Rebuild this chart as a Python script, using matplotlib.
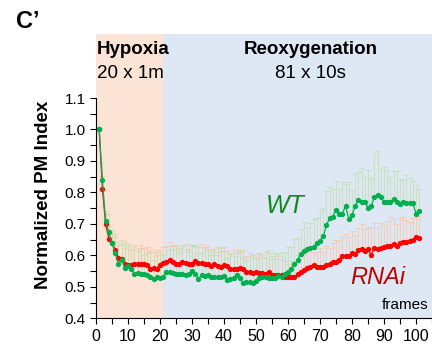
import matplotlib
matplotlib.use("Agg")
import matplotlib.pyplot as plt
import matplotlib.ticker as ticker
import matplotlib.transforms as mtransforms
from matplotlib.patches import Rectangle
import numpy as np

plt.rcParams['font.family'] = ['Liberation Sans', 'DejaVu Sans']

# Data
frames = list(range(1, 102))

wt = [1.000, 0.838, 0.710, 0.673, 0.639, 0.607, 0.574, 0.586, 0.561, 0.565,
      0.558, 0.541, 0.543, 0.541, 0.540, 0.537, 0.530, 0.525, 0.531, 0.528,
      0.530, 0.546, 0.547, 0.543, 0.540, 0.540, 0.540, 0.537, 0.540, 0.550,
      0.540, 0.526, 0.537, 0.535, 0.536, 0.532, 0.531, 0.531, 0.532, 0.534,
      0.522, 0.524, 0.527, 0.537, 0.527, 0.512, 0.515, 0.515, 0.512, 0.520,
      0.528, 0.530, 0.530, 0.528, 0.527, 0.527, 0.534, 0.530, 0.542, 0.548,
      0.558, 0.571, 0.585, 0.605, 0.615, 0.621, 0.622, 0.625, 0.639, 0.645,
      0.660, 0.695, 0.718, 0.722, 0.745, 0.730, 0.732, 0.758, 0.714, 0.728,
      0.758, 0.776, 0.768, 0.770, 0.752, 0.756, 0.785, 0.792, 0.785, 0.770,
      0.770, 0.770, 0.779, 0.768, 0.763, 0.768, 0.766, 0.766, 0.765, 0.733,
      0.742]

rnai = [1.000, 0.812, 0.700, 0.653, 0.640, 0.617, 0.593, 0.590, 0.574, 0.570,
        0.570, 0.571, 0.572, 0.572, 0.572, 0.568, 0.558, 0.561, 0.558, 0.568,
        0.576, 0.580, 0.584, 0.579, 0.572, 0.574, 0.580, 0.576, 0.571, 0.574,
        0.582, 0.576, 0.577, 0.574, 0.571, 0.566, 0.571, 0.566, 0.563, 0.568,
        0.565, 0.558, 0.556, 0.556, 0.560, 0.556, 0.547, 0.547, 0.544, 0.546,
        0.544, 0.544, 0.542, 0.546, 0.539, 0.537, 0.537, 0.537, 0.531, 0.531,
        0.531, 0.531, 0.540, 0.547, 0.552, 0.559, 0.562, 0.568, 0.562, 0.564,
        0.562, 0.570, 0.574, 0.578, 0.578, 0.585, 0.597, 0.598, 0.597, 0.607,
        0.605, 0.618, 0.620, 0.615, 0.620, 0.600, 0.624, 0.620, 0.622, 0.627,
        0.629, 0.631, 0.636, 0.629, 0.640, 0.642, 0.642, 0.647, 0.649, 0.658,
        0.656]

wt_err = [0.00, 0.06, 0.03, 0.06, 0.04, 0.05, 0.07, 0.05, 0.08, 0.07,
          0.06, 0.09, 0.07, 0.08, 0.06, 0.07, 0.08, 0.06, 0.07, 0.08,
          0.07, 0.08, 0.07, 0.09, 0.08, 0.07, 0.09, 0.08, 0.07, 0.08,
          0.09, 0.08, 0.07, 0.09, 0.08, 0.07, 0.08, 0.07, 0.09, 0.08,
          0.07, 0.08, 0.07, 0.08, 0.09, 0.08, 0.07, 0.08, 0.09, 0.07,
          0.08, 0.07, 0.08, 0.09, 0.07, 0.08, 0.07, 0.08, 0.07, 0.08,
          0.07, 0.08, 0.07, 0.08, 0.09, 0.07, 0.08, 0.09, 0.08, 0.10,
          0.09, 0.11, 0.10, 0.09, 0.09, 0.08, 0.10, 0.07, 0.12, 0.08,
          0.10, 0.09, 0.11, 0.08, 0.12, 0.09, 0.14, 0.14, 0.09, 0.11,
          0.10, 0.08, 0.09, 0.10, 0.08, 0.07, 0.09, 0.08, 0.07, 0.09,
          0.07]

rnai_err = [0.00, 0.04, 0.03, 0.04, 0.03, 0.05, 0.04, 0.06, 0.05, 0.06,
            0.05, 0.06, 0.05, 0.06, 0.05, 0.06, 0.06, 0.05, 0.06, 0.05,
            0.05, 0.05, 0.06, 0.05, 0.06, 0.05, 0.05, 0.06, 0.05, 0.06,
            0.05, 0.05, 0.06, 0.05, 0.06, 0.05, 0.05, 0.06, 0.05, 0.06,
            0.05, 0.05, 0.06, 0.05, 0.05, 0.06, 0.05, 0.06, 0.05, 0.05,
            0.06, 0.05, 0.05, 0.06, 0.05, 0.05, 0.06, 0.05, 0.05, 0.04,
            0.05, 0.05, 0.06, 0.05, 0.05, 0.06, 0.05, 0.06, 0.05, 0.06,
            0.05, 0.06, 0.05, 0.06, 0.07, 0.06, 0.06, 0.07, 0.06, 0.07,
            0.06, 0.07, 0.08, 0.07, 0.07, 0.09, 0.08, 0.07, 0.08, 0.07,
            0.08, 0.09, 0.08, 0.07, 0.08, 0.08, 0.07, 0.06, 0.07, 0.06,
            0.07]

fig = plt.figure(figsize=(4.32, 3.48), dpi=100)
ax = fig.add_axes([96 / 432, 1 - 318.3 / 348, 1 - 96 / 432, (318.3 - 98) / 348])

ax.set_xlim(0, 105)
ax.set_ylim(0.4, 1.1)

# phase backgrounds (extend above the axes to hold the headings)
trans = mtransforms.blended_transform_factory(ax.transData, ax.transAxes)
top_frac = (318.3 - 34) / (318.3 - 98)
ax.add_patch(Rectangle((0, 0), 21, top_frac, transform=trans, facecolor='#fbe4d6',
                       edgecolor='none', clip_on=False, zorder=0))
ax.add_patch(Rectangle((21, 0), 84, top_frac, transform=trans, facecolor='#dee8f4',
                       edgecolor='none', clip_on=False, zorder=0))

zeros = np.zeros(len(frames))
ax.errorbar(frames, rnai, yerr=[zeros, rnai_err], fmt='none', ecolor='#f6c9aa',
            elinewidth=0.8, capsize=2, capthick=0.8, alpha=0.8, zorder=2)
ax.errorbar(frames, wt, yerr=[zeros, wt_err], fmt='none', ecolor='#c6dfb4',
            elinewidth=0.8, capsize=2, capthick=0.8, alpha=0.8, zorder=2)

ax.plot(frames, rnai, color='#ff0000', marker='o', ms=2.8, lw=0.9, zorder=3)
ax.plot(frames, wt, color='#00b050', marker='o', ms=2.8, lw=0.9, zorder=4)

for s in ['top', 'right']:
    ax.spines[s].set_visible(False)
ax.set_facecolor('none')

ax.xaxis.set_major_locator(ticker.MultipleLocator(10))
ax.xaxis.set_minor_locator(ticker.MultipleLocator(5))
ax.yaxis.set_major_locator(ticker.MultipleLocator(0.1))
ax.yaxis.set_minor_locator(ticker.MultipleLocator(0.05))
ax.yaxis.set_major_formatter(ticker.FormatStrFormatter('%.1f'))
ax.tick_params(which='both', direction='out', length=4, width=0.8, labelsize=11)
ax.tick_params(axis='x', labelsize=11.5, pad=4)

fig.text(44 / 432, 1 - 195 / 348, 'Normalized PM Index', rotation=90, ha='center',
         va='center', fontsize=13.5, fontweight='bold')

fig.text(16 / 432, 1 - 22 / 348, 'C\u2019', ha='left', va='center', fontsize=17,
         fontweight='bold')
fig.text(97 / 432, 1 - 50 / 348, 'Hypoxia', ha='left', va='center', fontsize=13.5,
         fontweight='bold')
fig.text(97 / 432, 1 - 73 / 348, '20 x 1m', ha='left', va='center', fontsize=13.5)
fig.text(311 / 432, 1 - 50 / 348, 'Reoxygenation', ha='center', va='center',
         fontsize=13.5, fontweight='bold')
fig.text(310 / 432, 1 - 73 / 348, '81 x 10s', ha='center', va='center', fontsize=13.5)

fig.text(285 / 432, 1 - 206 / 348, 'WT', ha='center', va='center', fontsize=18,
         style='italic', color='#108a1e')
fig.text(378 / 432, 1 - 278 / 348, 'RNAi', ha='center', va='center', fontsize=17,
         style='italic', color='#c00000')
fig.text(428 / 432, 1 - 305 / 348, 'frames', ha='right', va='center', fontsize=11)

fig.savefig('out.png', dpi=100)
